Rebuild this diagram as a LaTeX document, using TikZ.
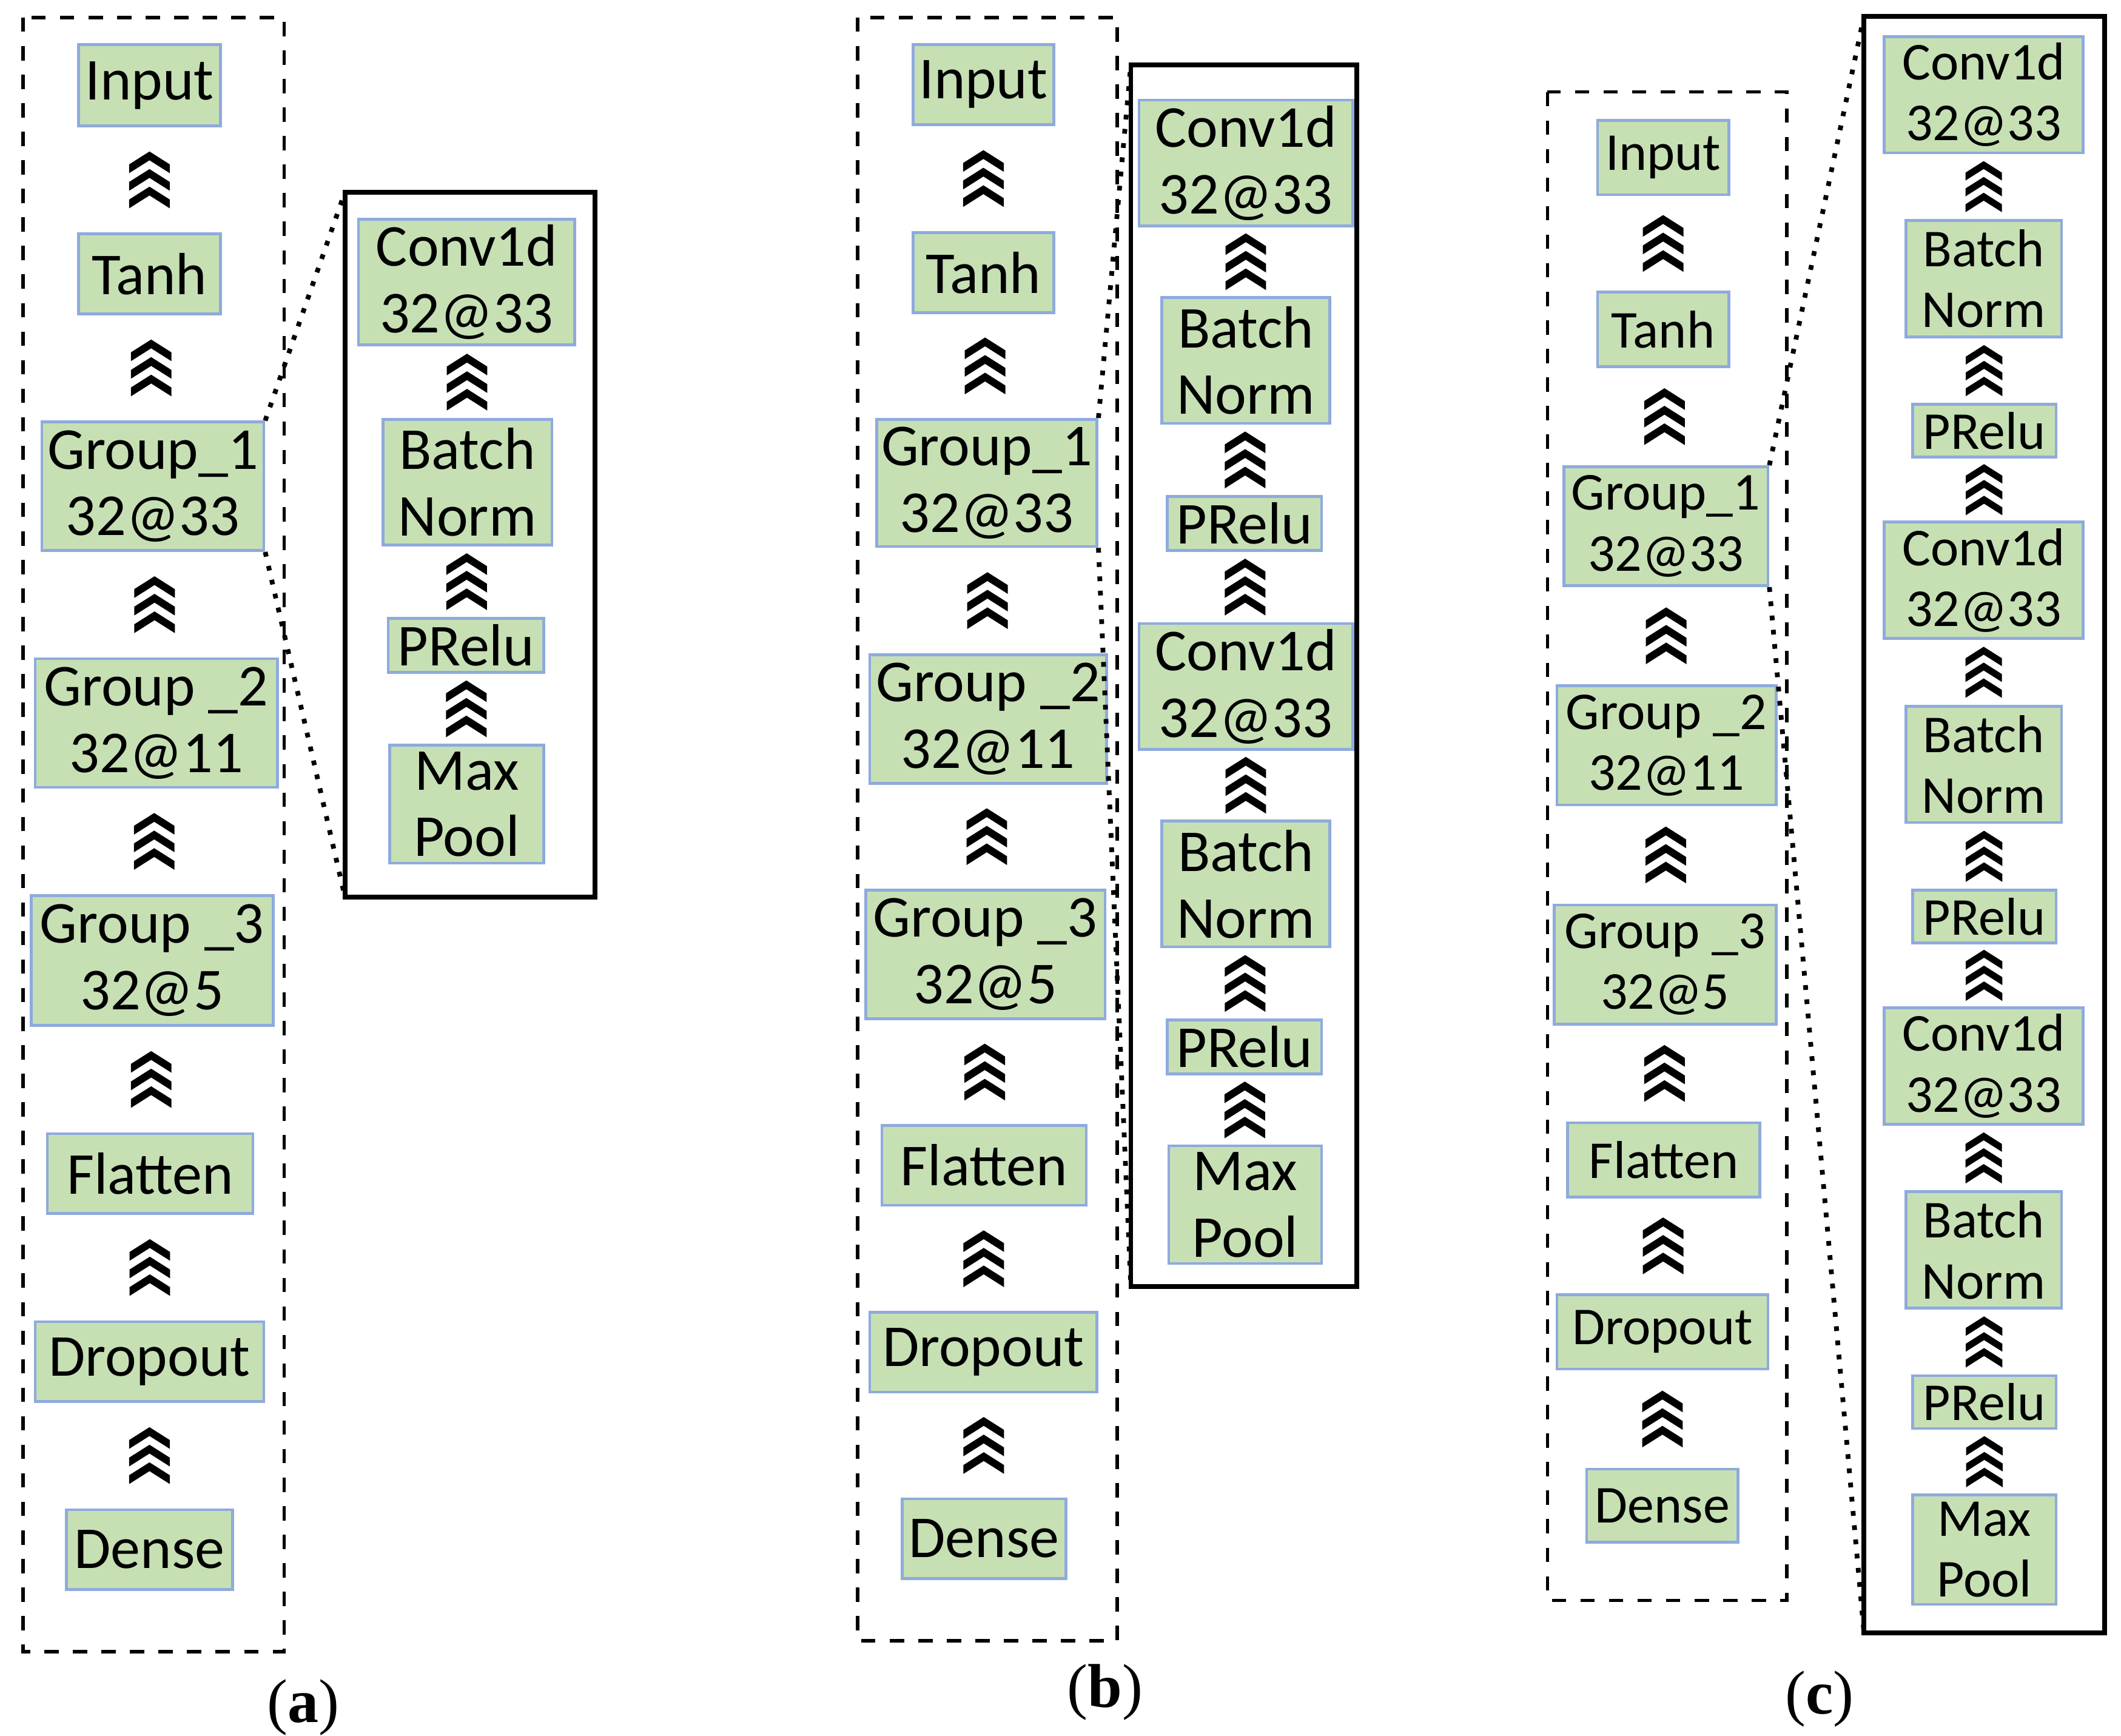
\documentclass[tikz,border=0pt]{standalone}
\usepackage{fontspec}
\setmainfont{Carlito}
\newfontfamily\lblfont{Liberation Serif}
\usetikzlibrary{calc}
\definecolor{boxfill}{HTML}{C6E0B4}
\definecolor{boxline}{HTML}{8FAADC}
\tikzset{
  box/.style={draw=boxline, fill=boxfill, line width=0.6pt, inner sep=0pt, align=center},
  chev/.pic={\foreach \o in {0,13,26}{\fill[black] (-15,-\o) -- (0,-9.5-\o) -- (15,-\o) -- (15,-6.5-\o) -- (0,-16-\o) -- (-15,-6.5-\o) -- cycle;}},
  dashedbox/.style={draw, dashed, line width=0.7pt},
  solidbox/.style={draw, line width=1pt},
  zoomline/.style={draw, dotted, line width=1pt},
}
% \nd{name}{x1}{y1}{x2}{y2}{text}
\newcommand\nd[6]{\node[box, minimum width={(#4-#2)*0.01cm}, minimum height={(#5-#3)*0.01cm}] (#1) at ({(#2+#4)/2},{(#3+#5)/2}) {#6};}
\newcommand\ch[3][1]{\pic[scale=#1] at ($($(#2.south)!0.5!(#3.north)$)+(0,21*#1)$) {chev};}
\begin{document}
\begin{tikzpicture}[x=0.01cm,y=-0.01cm]
\useasboundingbox[fill=white] (0,0) rectangle (1568,1283);
% ---------- (a)
\begin{scope}[font=\fontsize{12.5}{14}\selectfont]
\draw[dashedbox] (17,13) rectangle (210,1221);
\nd{aIn}{58}{33}{163}{93}{Input}
\nd{aTa}{58}{173}{163}{232}{Tanh}
\nd{aG1}{31}{312}{195}{407}{Group\_1\\32@33}
\nd{aG2}{26}{487}{205}{582}{Group \_2\\32@11}
\nd{aG3}{23}{662}{202}{758}{Group \_3\\32@5}
\nd{aFl}{35}{838}{187}{897}{Flatten}
\nd{aDr}{26}{977}{195}{1036}{Dropout}
\nd{aDe}{49}{1116}{172}{1175}{Dense}
\ch{aIn}{aTa}\ch{aTa}{aG1}\ch{aG1}{aG2}\ch{aG2}{aG3}\ch{aG3}{aFl}\ch{aFl}{aDr}\ch{aDr}{aDe}
\draw[solidbox] (255,142) coordinate (aZt) rectangle (440,663) coordinate (aZr);
\coordinate (aZb) at (255,663);
\nd{aC}{265}{162}{425}{255}{Conv1d\\32@33}
\nd{aB}{283}{310}{408}{403}{Batch\\Norm}
\nd{aP}{287}{457}{402}{497}{PRelu}
\nd{aM}{288}{551}{402}{638}{Max\\Pool}
\ch{aC}{aB}\ch{aB}{aP}\ch{aP}{aM}
\draw[zoomline] (aG1.north east) -- (aZt);
\draw[zoomline] (aG1.south east) -- (aZb);
\end{scope}
\node[font=\lblfont\fontsize{13}{15}\selectfont] (la) at (224,1262) {(\textbf{a})};
% ---------- (b)
\begin{scope}[font=\fontsize{12.5}{14}\selectfont]
\draw[dashedbox] (634,13) rectangle (826,1213);
\nd{bIn}{675}{33}{779}{92}{Input}
\nd{bTa}{675}{172}{779}{231}{Tanh}
\nd{bG1}{648}{310}{811}{404}{Group\_1\\32@33}
\nd{bG2}{643}{484}{818}{579}{Group \_2\\32@11}
\nd{bG3}{640}{658}{817}{753}{Group \_3\\32@5}
\nd{bFl}{652}{832}{803}{891}{Flatten}
\nd{bDr}{643}{970}{811}{1029}{Dropout}
\nd{bDe}{667}{1108}{788}{1167}{Dense}
\ch{bIn}{bTa}\ch{bTa}{bG1}\ch{bG1}{bG2}\ch{bG2}{bG3}\ch{bG3}{bFl}\ch{bFl}{bDr}\ch{bDr}{bDe}
\draw[solidbox] (836,48) coordinate (bZt) rectangle (1003,951);
\coordinate (bZb) at (836,951);
\nd{bC1}{842}{74}{1000}{167}{Conv1d\\32@33}
\nd{bB1}{859}{220}{983}{313}{Batch\\Norm}
\nd{bP1}{863}{367}{977}{407}{PRelu}
\nd{bC2}{842}{461}{1000}{554}{Conv1d\\32@33}
\nd{bB2}{859}{607}{983}{700}{Batch\\Norm}
\nd{bP2}{863}{754}{977}{794}{PRelu}
\nd{bM}{864}{847}{977}{934}{Max\\Pool}
\ch{bC1}{bB1}\ch{bB1}{bP1}\ch{bP1}{bC2}\ch{bC2}{bB2}\ch{bB2}{bP2}\ch{bP2}{bM}
\draw[zoomline] (bG1.north east) -- (bZt);
\draw[zoomline] (bG1.south east) -- (bZb);
\end{scope}
\node[font=\lblfont\fontsize{13}{15}\selectfont] (lb) at (817,1251) {(\textbf{b})};
% ---------- (c)
\begin{scope}[font=\fontsize{11.2}{12.8}\selectfont]
\draw[dashedbox] (1144,68) rectangle (1321,1183);
\nd{cIn}{1181}{89}{1278}{144}{Input}
\nd{cTa}{1181}{216}{1278}{271}{Tanh}
\nd{cG1}{1156}{345}{1307}{433}{Group\_1\\32@33}
\nd{cG2}{1151}{507}{1313}{595}{Group \_2\\32@11}
\nd{cG3}{1149}{669}{1313}{757}{Group \_3\\32@5}
\nd{cFl}{1159}{830}{1301}{885}{Flatten}
\nd{cDr}{1151}{957}{1307}{1012}{Dropout}
\nd{cDe}{1173}{1086}{1285}{1140}{Dense}
\ch{cIn}{cTa}\ch{cTa}{cG1}\ch{cG1}{cG2}\ch{cG2}{cG3}\ch{cG3}{cFl}\ch{cFl}{cDr}\ch{cDr}{cDe}
\draw[solidbox] (1378,12) coordinate (cZt) rectangle (1556,1207);
\coordinate (cZb) at (1378,1207);
\nd{cC1}{1393}{27}{1540}{113}{Conv1d\\32@33}
\nd{cB1}{1409}{163}{1524}{249}{Batch\\Norm}
\nd{cP1}{1414}{299}{1520}{338}{PRelu}
\nd{cC2}{1393}{386}{1540}{472}{Conv1d\\32@33}
\nd{cB2}{1409}{522}{1524}{608}{Batch\\Norm}
\nd{cP2}{1414}{658}{1520}{697}{PRelu}
\nd{cC3}{1393}{745}{1540}{831}{Conv1d\\32@33}
\nd{cB3}{1409}{881}{1524}{967}{Batch\\Norm}
\nd{cP3}{1414}{1017}{1520}{1056}{PRelu}
\nd{cM}{1414}{1105}{1520}{1186}{Max\\Pool}
\ch[0.9]{cC1}{cB1}\ch[0.9]{cB1}{cP1}\ch[0.9]{cP1}{cC2}\ch[0.9]{cC2}{cB2}\ch[0.9]{cB2}{cP2}\ch[0.9]{cP2}{cC3}\ch[0.9]{cC3}{cB3}\ch[0.9]{cB3}{cP3}\ch[0.9]{cP3}{cM}
\draw[zoomline] (cG1.north east) -- (cZt);
\draw[zoomline] (cG1.south east) -- (cZb);
\end{scope}
\node[font=\lblfont\fontsize{13}{15}\selectfont] (lc) at (1345,1256) {(\textbf{c})};
\end{tikzpicture}
\end{document}
